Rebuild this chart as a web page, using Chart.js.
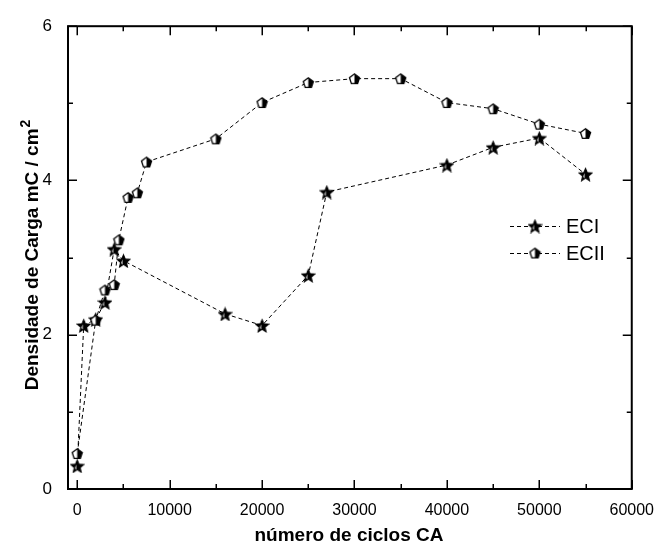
<!DOCTYPE html>
<html>
<head>
<meta charset="utf-8">
<script src="https://cdn.jsdelivr.net/npm/chart.js@4/dist/chart.umd.min.js"></script>
<style>
html,body{margin:0;padding:0;background:#fff;}
#wrap{width:666px;height:549px;}
</style>
</head>
<body>
<div id="wrap"><canvas id="c" width="666" height="549"></canvas></div>
<script>
// ---- data ----
const eciX  = [0, 700, 2000, 3000, 4000, 5000, 16000, 20000, 25000, 27000, 40000, 45000, 50000, 55000];
const eciY  = [0.30, 2.12, 2.20, 2.42, 3.11, 2.96, 2.27, 2.12, 2.77, 3.85, 4.20, 4.43, 4.55, 4.08];
const eciiX = [0, 2000, 3000, 4000, 4500, 5500, 6500, 7500, 15000, 20000, 25000, 30000, 35000, 40000, 45000, 50000, 55000];
const eciiY = [0.46, 2.19, 2.58, 2.65, 3.23, 3.78, 3.84, 4.24, 4.54, 5.01, 5.27, 5.32, 5.32, 5.01, 4.93, 4.73, 4.61];
const seriesNames = ['ECI', 'ECII'];
const xTicks = [0, 10000, 20000, 30000, 40000, 50000, 60000];
const xMinorTicks = [5000, 15000, 25000, 35000, 45000, 55000];
const yTicks = [0, 2, 4, 6];
const yMinorTicks = [1, 3, 5];
const xTitle = 'número de ciclos CA';
const yTitle = 'Densidade de Carga mC / cm';
const yTitleSup = '2';

// ---- marker images ----
function makePentagon(size) {
  const c = document.createElement('canvas'); c.width = c.height = size;
  const ctx = c.getContext('2d');
  const r = size / 2 - 1.2, cx = size / 2, cy = size / 2 + 0.6;
  const path = () => {
    ctx.beginPath();
    for (let k = 0; k < 5; k++) {
      const a = -Math.PI / 2 + k * 2 * Math.PI / 5;
      const px = cx + r * Math.cos(a), py = cy + r * Math.sin(a);
      k ? ctx.lineTo(px, py) : ctx.moveTo(px, py);
    }
    ctx.closePath();
  };
  path(); ctx.fillStyle = '#fff'; ctx.fill();
  ctx.save(); path(); ctx.clip();
  ctx.fillStyle = '#000'; ctx.fillRect(size / 2, 0, size / 2, size);
  ctx.restore();
  path(); ctx.strokeStyle = '#000'; ctx.lineWidth = 1.3; ctx.stroke();
  return c;
}
function makeStar(size) {
  const c = document.createElement('canvas'); c.width = c.height = size;
  const ctx = c.getContext('2d');
  const r = size / 2 - 0.8, ri = r * 0.45, cx = size / 2, cy = size / 2 + 0.8;
  const path = () => {
    ctx.beginPath();
    for (let k = 0; k < 10; k++) {
      const a = -Math.PI / 2 + k * Math.PI / 5;
      const rr = k % 2 ? ri : r;
      const px = cx + rr * Math.cos(a), py = cy + rr * Math.sin(a);
      k ? ctx.lineTo(px, py) : ctx.moveTo(px, py);
    }
    ctx.closePath();
  };
  path(); ctx.fillStyle = '#000'; ctx.fill();
  ctx.save(); path(); ctx.clip();
  ctx.fillStyle = '#fff';
  ctx.beginPath(); ctx.moveTo(cx - 1, cy - r * 0.3); ctx.lineTo(cx - 1, cy + r * 0.5); ctx.lineTo(cx - r * 0.35, cy + r * 0.2); ctx.closePath(); ctx.fill();
  ctx.restore();
  path(); ctx.strokeStyle = '#000'; ctx.lineWidth = 1.1; ctx.stroke();
  return c;
}
const starImg = makeStar(15);
const pentImg = makePentagon(13);
const markers = [starImg, pentImg];

const FONT = '"Liberation Sans", Arial, Helvetica, sans-serif';

const decor = {
  id: 'decor',
  beforeDatasetsDraw(chart) {
    const ctx = chart.ctx, a = chart.chartArea;
    const xs = chart.scales.x, ys = chart.scales.y;
    ctx.save();
    ctx.strokeStyle = '#000';
    ctx.lineWidth = 1.5;
    const tick = (x1, y1, x2, y2) => { ctx.beginPath(); ctx.moveTo(x1, y1); ctx.lineTo(x2, y2); ctx.stroke(); };
    xTicks.forEach(v => { const p = Math.round(xs.getPixelForValue(v)) + 0.25; tick(p, a.bottom, p, a.bottom - 9); tick(p, a.top, p, a.top + 9); });
    xMinorTicks.forEach(v => { const p = Math.round(xs.getPixelForValue(v)) + 0.25; tick(p, a.bottom, p, a.bottom - 5); tick(p, a.top, p, a.top + 5); });
    yTicks.forEach(v => { const p = Math.round(ys.getPixelForValue(v)) + 0.25; tick(a.left, p, a.left + 9, p); tick(a.right, p, a.right - 9, p); });
    yMinorTicks.forEach(v => { const p = Math.round(ys.getPixelForValue(v)) + 0.25; tick(a.left, p, a.left + 5, p); tick(a.right, p, a.right - 5, p); });
    ctx.lineWidth = 2;
    ctx.strokeRect(a.left, a.top, a.right - a.left, a.bottom - a.top);
    ctx.restore();
  },
  afterDraw(chart) {
    const ctx = chart.ctx;
    ctx.save();
    ctx.fillStyle = '#000';
    // x title
    ctx.font = 'bold 19px ' + FONT;
    ctx.textAlign = 'center';
    ctx.textBaseline = 'middle';
    ctx.fillText(xTitle, 349, 536);
    // y title (rotated) with superscript
    ctx.font = 'bold 19px ' + FONT;
    const mainW = ctx.measureText(yTitle).width;
    ctx.font = 'bold 14px ' + FONT;
    const supW = ctx.measureText(yTitleSup).width;
    const total = mainW + supW + 1;
    ctx.translate(38, 255);
    ctx.rotate(-Math.PI / 2);
    ctx.textAlign = 'left';
    ctx.textBaseline = 'alphabetic';
    ctx.font = 'bold 19px ' + FONT;
    ctx.fillText(yTitle, -total / 2, 0);
    ctx.font = 'bold 14px ' + FONT;
    ctx.fillText(yTitleSup, -total / 2 + mainW + 1, -8);
    ctx.setTransform(1, 0, 0, 1, 0, 0);
    // legend
    const rows = [226, 253];
    rows.forEach((y, i) => {
      ctx.strokeStyle = '#000';
      ctx.lineWidth = 1;
      ctx.setLineDash([4, 3]);
      ctx.beginPath(); ctx.moveTo(510, y + 0.5); ctx.lineTo(560, y + 0.5); ctx.stroke();
      ctx.setLineDash([]);
      const m = markers[i];
      ctx.drawImage(m, 535 - m.width / 2, y - m.height / 2);
      ctx.font = '20px ' + FONT;
      ctx.textAlign = 'left';
      ctx.textBaseline = 'middle';
      ctx.fillText(seriesNames[i], 566, y + 1);
    });
    ctx.restore();
  }
};

const mk = (xs, ys) => xs.map((x, i) => ({ x, y: ys[i] }));
new Chart(document.getElementById('c'), {
  type: 'scatter',
  data: {
    datasets: [
      { label: seriesNames[0], data: mk(eciX, eciY), showLine: true, borderColor: '#000', borderWidth: 1, borderDash: [4, 3], tension: 0, pointStyle: starImg, pointRadius: 7, fill: false, order: 2 },
      { label: seriesNames[1], data: mk(eciiX, eciiY), showLine: true, borderColor: '#000', borderWidth: 1, borderDash: [4, 3], tension: 0, pointStyle: pentImg, pointRadius: 6, fill: false, order: 1 }
    ]
  },
  options: {
    responsive: false,
    devicePixelRatio: 1,
    animation: false,
    layout: { padding: { left: 0, right: 23, top: 22, bottom: 0 } },
    plugins: { legend: { display: false }, tooltip: { enabled: false } },
    scales: {
      x: {
        type: 'linear', min: -1000, max: 60000,
        grid: { display: false, drawTicks: false },
        border: { display: false },
        afterBuildTicks: s => { s.ticks = xTicks.map(v => ({ value: v })); },
        afterFit: s => { s.height = 60; },
        ticks: { color: '#000', font: { family: FONT, size: 16 }, padding: 12, maxRotation: 0, autoSkip: false, callback: v => String(v) }
      },
      y: {
        type: 'linear', min: 0, max: 6,
        grid: { display: false, drawTicks: false },
        border: { display: false },
        afterBuildTicks: s => { s.ticks = yTicks.map(v => ({ value: v })); },
        afterFit: s => { s.width = 68; },
        ticks: { color: '#000', font: { family: FONT, size: 17 }, padding: 16, autoSkip: false, callback: v => String(v) }
      }
    }
  },
  plugins: [decor]
});
</script>
</body>
</html>
